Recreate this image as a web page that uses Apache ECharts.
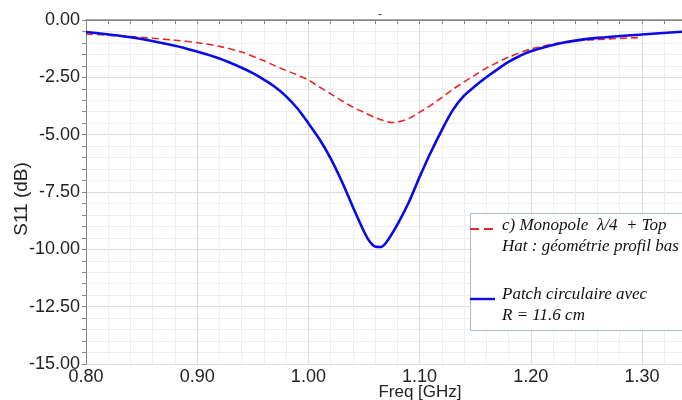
<!DOCTYPE html>
<html><head><meta charset="utf-8">
<script src="https://cdn.jsdelivr.net/npm/echarts@6/dist/echarts.min.js"></script>
<style>html,body{margin:0;padding:0;background:#fff}#c{width:682px;height:400px}</style>
</head><body><div id="c"></div>
<script>
var blueFreq = [0.80,0.84,0.88,0.90,0.92,0.94,0.95,0.96,0.97,0.98,0.99,1.00,1.01,1.02,1.03,1.04,1.05,1.055,1.06,1.065,1.07,1.08,1.09,1.10,1.11,1.12,1.13,1.14,1.15,1.16,1.17,1.18,1.19,1.20,1.23,1.26,1.30,1.336];
var blueS11  = [-0.52,-0.75,-1.12,-1.38,-1.68,-2.08,-2.32,-2.60,-2.92,-3.33,-3.85,-4.50,-5.20,-6.03,-7.03,-8.15,-9.22,-9.65,-9.88,-9.90,-9.70,-8.92,-7.98,-6.85,-5.78,-4.80,-3.92,-3.30,-2.88,-2.50,-2.15,-1.83,-1.57,-1.36,-0.98,-0.78,-0.63,-0.51];
var redFreq = [0.80,0.84,0.88,0.90,0.92,0.94,0.96,0.97,0.98,0.99,1.00,1.01,1.02,1.03,1.04,1.05,1.06,1.07,1.075,1.08,1.09,1.10,1.11,1.12,1.13,1.14,1.15,1.16,1.17,1.18,1.20,1.23,1.26,1.30];
var redS11  = [-0.61,-0.72,-0.88,-0.99,-1.15,-1.40,-1.78,-2.00,-2.20,-2.40,-2.62,-2.92,-3.22,-3.52,-3.80,-4.03,-4.25,-4.42,-4.47,-4.45,-4.30,-4.02,-3.72,-3.38,-3.02,-2.70,-2.40,-2.10,-1.85,-1.62,-1.27,-0.96,-0.85,-0.76];
var xTicks = {min:0.80, max:1.336, step:0.1};
var yTicks = {min:-15, max:0, step:2.5};
var legendLines = ["c) Monopole  λ/4  + Top", "Hat : géométrie profil bas", "Patch circulaire avec", "R = 11.6 cm"];

function pairs(xs, ys){ return xs.map(function(x,i){return [x, ys[i]];}); }

var chart = echarts.init(document.getElementById('c'), null, {renderer:'canvas'});
var lblFont = 'Liberation Sans, Arial, sans-serif';
var serif = 'Liberation Serif, Times New Roman, serif';
chart.setOption({
  animation:false,
  title:{text:'-', left:373, top:4, textStyle:{fontSize:12, fontWeight:'normal', color:'#333'}},
  grid:{left:86, top:20, right:0, bottom:36, containLabel:false, outerBoundsMode:'none'},
  xAxis:[{
    type:'value', min:xTicks.min, max:xTicks.max, interval:xTicks.step,
    name:'Freq [GHz]', nameLocation:'middle', nameGap:20, nameMoveOverlap:false,
    nameTextStyle:{fontSize:17, color:'#222', fontFamily:lblFont, padding:[0,0,0,72]},
    axisLine:{show:true, lineStyle:{color:'#888', width:1}},
    axisTick:{show:true, length:4, lineStyle:{color:'#888'}},
    minorTick:{show:true, splitNumber:5, length:4, lineStyle:{color:'#888'}},
    axisLabel:{fontSize:18, color:'#222', fontFamily:lblFont, margin:4, showMaxLabel:false,
      formatter:function(v){return v.toFixed(2);}},
    splitLine:{show:true, lineStyle:{color:'#dcdcdc', width:1}},
    minorSplitLine:{show:true, lineStyle:{color:'#eeeeee', width:1}}
  },{
    type:'value', position:'top', min:xTicks.min, max:xTicks.max,
    axisLine:{show:true, lineStyle:{color:'#888', width:1.5}},
    axisTick:{show:false}, axisLabel:{show:false}, splitLine:{show:false}
  }],
  yAxis:{
    type:'value', min:yTicks.min, max:yTicks.max, interval:yTicks.step,
    name:'S11 (dB)', nameLocation:'middle', nameGap:55, nameMoveOverlap:false,
    nameTextStyle:{fontSize:19, color:'#222', fontFamily:lblFont, padding:[0,14,0,0]},
    axisLine:{show:true, lineStyle:{color:'#888', width:1}},
    axisTick:{show:true, length:4, lineStyle:{color:'#888'}},
    minorTick:{show:true, splitNumber:5, length:4, lineStyle:{color:'#888'}},
    axisLabel:{fontSize:18, color:'#222', fontFamily:lblFont, margin:6,
      formatter:function(v){return v.toFixed(2);}},
    splitLine:{show:true, lineStyle:{color:'#dcdcdc', width:1}},
    minorSplitLine:{show:true, lineStyle:{color:'#eeeeee', width:1}}
  },
  series:[
    {type:'line', data:pairs(redFreq, redS11), smooth:0.3, showSymbol:false, z:3,
      lineStyle:{color:'#e82828', width:1.6, type:[7,4]}},
    {type:'line', data:pairs(blueFreq, blueS11), smooth:0.3, showSymbol:false, z:4,
      lineStyle:{color:'#0a0ae6', width:2.6}}
  ],
  graphic:[
    {type:'rect', shape:{x:470.5, y:213.5, width:220, height:117}, style:{fill:'#fff', stroke:'#a9bccb', lineWidth:1}, z:10},
    {type:'line', shape:{x1:470, y1:229, x2:494, y2:229}, style:{stroke:'#e82828', lineWidth:2, lineDash:[9,5]}, z:11},
    {type:'line', shape:{x1:470, y1:299, x2:495, y2:299}, style:{stroke:'#0a0ae6', lineWidth:2.4}, z:11},
    {type:'text', x:502, y:226, style:{text:legendLines[0], font:'italic 17px '+serif, fill:'#111', textVerticalAlign:'middle'}, z:11},
    {type:'text', x:502, y:247, style:{text:legendLines[1], font:'italic 17px '+serif, fill:'#111', textVerticalAlign:'middle'}, z:11},
    {type:'text', x:502, y:295, style:{text:legendLines[2], font:'italic 17px '+serif, fill:'#111', textVerticalAlign:'middle'}, z:11},
    {type:'text', x:502, y:316, style:{text:legendLines[3], font:'italic 17px '+serif, fill:'#111', textVerticalAlign:'middle'}, z:11}
  ]
});
</script></body></html>
